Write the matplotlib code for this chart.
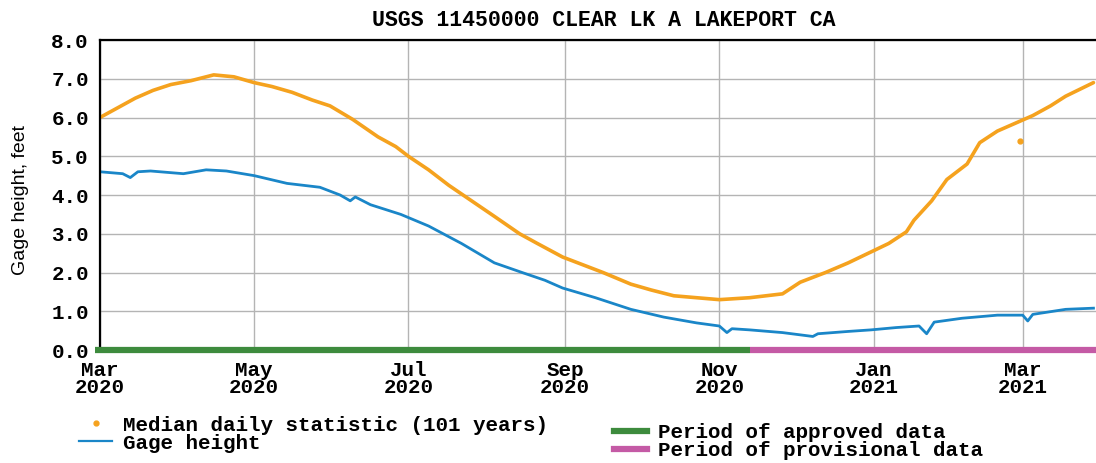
import numpy as np
import pandas as pd
import matplotlib
matplotlib.use("Agg")
import matplotlib.pyplot as plt
import matplotlib.dates as mdates
from matplotlib.lines import Line2D

# Median daily statistic (101 years)
median_dates = ['2020-03-01', '2020-03-08', '2020-03-15', '2020-03-22', '2020-03-29',
                '2020-04-06', '2020-04-15', '2020-04-23', '2020-05-01', '2020-05-08',
                '2020-05-16', '2020-05-24', '2020-05-31', '2020-06-09', '2020-06-19',
                '2020-06-26', '2020-07-01', '2020-07-09', '2020-07-17', '2020-07-26',
                '2020-08-04', '2020-08-14', '2020-08-21', '2020-08-31', '2020-09-08',
                '2020-09-16', '2020-09-27', '2020-10-05', '2020-10-14', '2020-10-23',
                '2020-11-01', '2020-11-13', '2020-11-26', '2020-12-03', '2020-12-13',
                '2020-12-22', '2020-12-30', '2021-01-07', '2021-01-14', '2021-01-17',
                '2021-01-24', '2021-01-30', '2021-02-07', '2021-02-12', '2021-02-19',
                '2021-02-26', '2021-03-05', '2021-03-12', '2021-03-18', '2021-03-29']
median_vals = [6.00, 6.25, 6.50, 6.70, 6.85,
               6.95, 7.10, 7.05, 6.90, 6.80,
               6.65, 6.45, 6.30, 5.95, 5.50,
               5.25, 5.00, 4.65, 4.25, 3.85,
               3.45, 3.00, 2.75, 2.40, 2.20,
               2.00, 1.70, 1.55, 1.40, 1.35,
               1.30, 1.35, 1.45, 1.75, 2.00,
               2.25, 2.50, 2.75, 3.05, 3.35,
               3.85, 4.40, 4.80, 5.35, 5.65,
               5.85, 6.05, 6.30, 6.55, 6.90]
median_outlier_date = ['2021-02-28']
median_outlier_val = [5.40]

# Gage height
gage_dates = ['2020-03-01', '2020-03-10', '2020-03-13', '2020-03-16', '2020-03-21',
              '2020-04-03', '2020-04-12', '2020-04-20', '2020-05-01', '2020-05-14',
              '2020-05-27', '2020-06-04', '2020-06-08', '2020-06-10', '2020-06-16',
              '2020-06-28', '2020-07-09', '2020-07-22', '2020-08-04', '2020-08-15',
              '2020-08-24', '2020-08-31', '2020-09-13', '2020-09-27', '2020-10-10',
              '2020-10-23', '2020-11-01', '2020-11-04', '2020-11-06', '2020-11-13',
              '2020-11-26', '2020-12-08', '2020-12-10', '2020-12-22', '2020-12-31',
              '2021-01-10', '2021-01-19', '2021-01-22', '2021-01-25', '2021-02-05',
              '2021-02-19', '2021-03-01', '2021-03-03', '2021-03-05', '2021-03-18',
              '2021-03-29']
gage_vals = [4.60, 4.55, 4.45, 4.60, 4.62,
             4.55, 4.65, 4.62, 4.50, 4.30,
             4.20, 4.00, 3.85, 3.95, 3.75,
             3.50, 3.20, 2.75, 2.25, 2.00,
             1.80, 1.60, 1.35, 1.05, 0.85,
             0.70, 0.62, 0.45, 0.55, 0.52,
             0.45, 0.35, 0.42, 0.48, 0.52,
             0.58, 0.62, 0.42, 0.72, 0.82,
             0.90, 0.90, 0.75, 0.92, 1.05,
             1.08]

# approval periods
approved_period = ['2020-02-28', '2020-11-13']
provisional_period = ['2020-11-13', '2021-03-30']

x_range = ['2020-03-01', '2021-03-30']
y_ticks = [0, 1, 2, 3, 4, 5, 6, 7, 8]

c_median = '#f5a21e'
c_gage = '#1a86c8'
c_appr = '#3d8b3d'
c_prov = '#c45aa5'

mono = 'Liberation Mono'

fig = plt.figure(figsize=(10.96, 4.63), dpi=100)
ax = fig.add_axes([0.0912, 0.244, 0.9088, 0.6696])

md = pd.to_datetime(median_dates)
gd = pd.to_datetime(gage_dates)

ax.plot(md, median_vals, color=c_median, lw=2.6, solid_capstyle='round')
ax.plot(pd.to_datetime(median_outlier_date), median_outlier_val, 'o',
        color=c_median, ms=3.5)
ax.plot(gd, gage_vals, color=c_gage, lw=2.0)

ax.plot(pd.to_datetime(approved_period), [0, 0], color=c_appr, lw=4.5,
        clip_on=False, solid_capstyle='butt', zorder=5)
ax.plot(pd.to_datetime(provisional_period), [0, 0], color=c_prov, lw=4.5,
        clip_on=False, solid_capstyle='butt', zorder=5)

ax.set_xlim(pd.to_datetime(x_range[0]), pd.to_datetime(x_range[1]))
ax.set_ylim(0, 8)
ax.set_yticks(y_ticks)
ax.set_yticklabels(['%.1f' % v for v in y_ticks])

ax.xaxis.set_major_locator(mdates.MonthLocator(bymonth=[1, 3, 5, 7, 9, 11]))
ax.xaxis.set_major_formatter(mdates.DateFormatter('%b\n%Y'))

ax.grid(True, color='#b4b4b4', lw=1.0)
ax.set_axisbelow(True)
ax.tick_params(length=0, pad=8)
for lab in ax.get_xticklabels():
    lab.set_fontfamily(mono)
    lab.set_fontweight('bold')
    lab.set_fontsize(15)
    lab.set_linespacing(0.85)
for lab in ax.get_yticklabels():
    lab.set_fontfamily(mono)
    lab.set_fontweight('bold')
    lab.set_fontsize(15)

for s in ['left', 'top', 'bottom']:
    ax.spines[s].set_linewidth(1.6)
    ax.spines[s].set_color('black')
ax.spines['right'].set_visible(False)

ax.set_ylabel('Gage height, feet', fontfamily='Liberation Sans', fontsize=14)
ax.yaxis.set_label_coords(-0.071, 0.484)

fig.text(0.551, 0.955, 'USGS 11450000 CLEAR LK A LAKEPORT CA', ha='center',
         va='center', fontfamily=mono, fontweight='bold', fontsize=15.5)

legprop = {'family': mono, 'weight': 'bold', 'size': 15}
h1 = [Line2D([], [], color=c_median, marker='o', ms=3.5, ls='none'),
      Line2D([], [], color=c_gage, lw=1.6)]
leg1 = fig.legend(h1, ['Median daily statistic (101 years)', 'Gage height'],
                  loc='upper left', bbox_to_anchor=(0.072, 0.102),
                  frameon=False, prop=legprop, handlelength=1.6,
                  handletextpad=0.5, labelspacing=-0.05, borderpad=0,
                  borderaxespad=0)
h2 = [Line2D([], [], color=c_appr, lw=4.5), Line2D([], [], color=c_prov, lw=4.5)]
leg2 = fig.legend(h2, ['Period of approved data', 'Period of provisional data'],
                  loc='upper left', bbox_to_anchor=(0.560, 0.086),
                  frameon=False, prop=legprop, handlelength=1.6,
                  handletextpad=0.5, labelspacing=-0.05, borderpad=0,
                  borderaxespad=0)

fig.savefig('out.png', dpi=100)
